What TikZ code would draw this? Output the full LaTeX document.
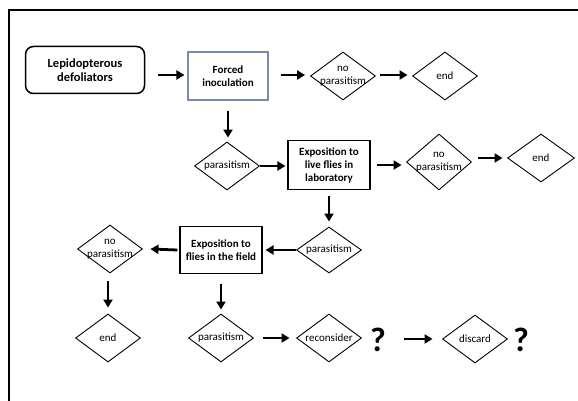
\documentclass[tikz,border=0pt]{standalone}
\usepackage{fontspec}
\setmainfont{Carlito}
\usetikzlibrary{shapes.geometric,arrows.meta}
\definecolor{boxblue}{RGB}{120,140,170}
\begin{document}
\begin{tikzpicture}[x=1pt,y=-1pt,
  arr/.style={line width=2.8pt,-{Triangle[length=8pt,width=9pt]}},
  dia/.style={diamond,draw,line width=0.9pt,minimum width=65pt,minimum height=48pt,inner sep=0pt,
    label={[font=\fontsize{11}{13}\selectfont,align=center,inner sep=0pt]center:#1}},
  boxnode/.style={rectangle,draw,line width=1.1pt,align=center,inner sep=1pt,font=\bfseries\fontsize{11}{13}\selectfont},
  qmark/.style={font=\bfseries\fontsize{34}{34}\selectfont,inner sep=0pt}]
\useasboundingbox (0,0) rectangle (578,401);
\draw[line width=1.2pt] (9,401) -- (9,10) -- (578,10);
% row 1
\node[boxnode,rounded corners=8pt,line width=1.5pt,minimum width=119pt,minimum height=47pt,font=\bfseries\fontsize{12.5}{14.5}\selectfont] (lep) at (85,70) {Lepidopterous\\defoliators};
\node[boxnode,draw=boxblue,minimum width=80pt,minimum height=48pt] (forced) at (228,76) {Forced\\inoculation};
\node[dia={no\\parasitism}] (np1) at (343,76) {};
\node[dia={end}] (end1) at (445,76) {};
% row 2
\node[dia={parasitism}] (p1) at (227,166) {};
\node[boxnode,minimum width=82pt,minimum height=49pt] (lab) at (329,165) {Exposition to\\live flies in\\laboratory};
\node[dia={no\\parasitism},minimum height=56pt] (np2) at (439,162) {};
\node[dia={end},minimum width=67pt] (end2) at (541,158) {};
% row 3
\node[dia={parasitism},minimum height=46pt] (p2) at (329,250) {};
\node[boxnode,minimum width=82pt,minimum height=47pt] (field) at (221,250) {Exposition to\\flies in the field};
\node[dia={no\\parasitism}] (np3) at (110,249) {};
% row 4
\node[dia={end}] (end3) at (108,338) {};
\node[dia={parasitism}] (p3) at (221,338) {};
\node[dia={reconsider}] (rec) at (329,338) {};
\node[qmark] (q1) at (378,340) {?};
\node[dia={discard}] (dis) at (475,339) {};
\node[qmark] (q2) at (521,340) {?};
% arrows
\draw[arr] ([xshift=12.5pt]lep.east |- 0,75) -- ([xshift=-3pt]forced.west |- 0,75);
\draw[arr] ([xshift=12pt]forced.east |- 0,75) -- ([xshift=-5pt]np1.west |- 0,75);
\draw[arr] ([xshift=4.5pt]np1.east |- 0,75) -- ([xshift=-4.5pt]end1.west |- 0,75);
\draw[arr] ([yshift=-10pt]forced.south) -- ([yshift=4pt]p1.north -| forced.south);
\draw[arr] (p1.east) -- ([xshift=-2pt]lab.west |- 0,166);
\draw[arr] ([xshift=6pt]lab.east) -- ([xshift=-4.5pt]np2.west |- 0,165);
\draw[arr] ([xshift=6.5pt]np2.east |- 0,158) -- ([xshift=-4.5pt]end2.west);
\draw[arr] ([yshift=-5.5pt]lab.south) -- ([yshift=5pt]p2.north);
\draw[arr] (p2.west) -- ([xshift=3pt]field.east);
\draw[arr] ([xshift=-2pt]field.west) -- ([xshift=7.5pt]np3.east);
\draw[arr] ([yshift=-8pt]np3.south -| end3.north) -- ([yshift=6pt]end3.north);
\draw[arr] ([yshift=-9.5pt]field.south) -- ([yshift=4pt]p3.north);
\draw[arr] ([xshift=18pt]q1.east |- dis.west) -- ([xshift=-9.5pt]dis.west);
\draw[arr] ([xshift=9.5pt]p3.east) -- ([xshift=-6.5pt]rec.west);
\end{tikzpicture}
\end{document}
